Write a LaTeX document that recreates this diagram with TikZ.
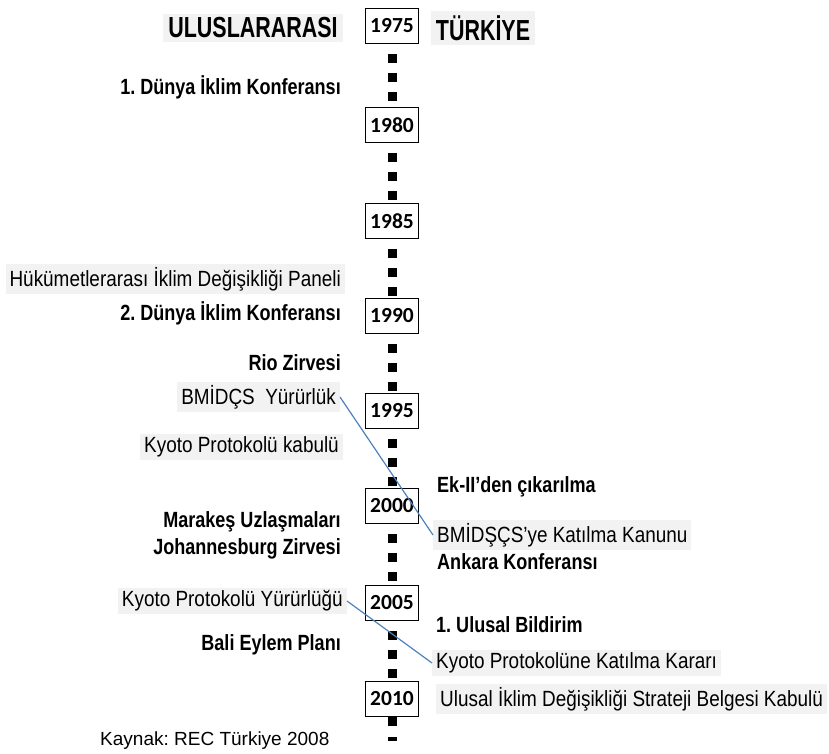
\documentclass[tikz,border=0pt]{standalone}
\usepackage{fontspec}
\setmainfont{Liberation Sans}
\newfontfamily\eventfont{Liberation Sans}[FakeStretch=0.82]
\newfontfamily\notefont{Liberation Sans}[FakeStretch=0.86]
\newfontfamily\headfont{Liberation Sans}[FakeStretch=0.74]
\newfontfamily\yearfont{Carlito}
\usepackage{tikz}
\usetikzlibrary{positioning}
\definecolor{notegray}{RGB}{242,242,242}
\definecolor{linkblue}{RGB}{79,129,189}
\frenchspacing

\begin{document}
\begin{tikzpicture}[
    x=1pt, y=-1pt,
    yearbox/.style={rectangle, draw=black, line width=1.5pt, fill=white, minimum width=53pt, minimum height=35pt, inner sep=0pt, font=\yearfont\bfseries\fontsize{21.5}{24}\selectfont},
    header/.style={rectangle, fill=notegray, inner xsep=5pt, inner ysep=4pt, font=\headfont\bfseries\fontsize{29}{32}\selectfont},
    event/.style={inner sep=0pt, font=\eventfont\bfseries\fontsize{22}{24}\selectfont},
    note/.style={rectangle, fill=notegray, inner xsep=4pt, inner ysep=3pt, font=\notefont\fontsize{22}{24}\selectfont},
    source/.style={inner sep=0pt, font=\fontsize{19}{22}\selectfont},
    timeline/.style={line width=9pt, dash pattern=on 9pt off 10pt, dash phase=9pt},
    link/.style={draw=linkblue, line width=1.2pt}
]

\useasboundingbox (0,0) rectangle (829,754);

% Headers
\node[header] (intl) at (253, 28) {ULUSLARARASI};
\node[header] (turkey) at (483, 28) {TÜRKİYE};

% Year boxes
\node[yearbox] (y1975) at (392, 26) {1975};
\node[yearbox] (y1980) at (392, 125) {1980};
\node[yearbox] (y1985) at (392, 221) {1985};
\node[yearbox] (y1990) at (392, 316) {1990};
\node[yearbox] (y1995) at (392, 411) {1995};
\node[yearbox] (y2000) at (392, 506) {2000};
\node[yearbox] (y2005) at (392, 603) {2005};
\node[yearbox] (y2010) at (392, 699) {2010};
\coordinate (tail) at (392, 741);

% Timeline
\foreach \from/\to in {y1975/y1980, y1980/y1985, y1985/y1990, y1990/y1995, y1995/y2000, y2000/y2005, y2005/y2010}
    \draw[timeline] (\from.south) -- (\to.north);
\draw[line width=9pt, dash pattern=on 9pt off 11pt on 4pt off 10pt] (y2010.south) -- (tail);

% International events
\node[event, anchor=east] (conf1) at (341, 87) {1. Dünya İklim Konferansı};
\node[note, anchor=east] (ipcc) at (345, 279) {Hükümetlerarası İklim Değişikliği Paneli};
\node[event, anchor=east] (conf2) at (341, 313) {2. Dünya İklim Konferansı};
\node[event, anchor=east] (rio) at (341, 363) {Rio Zirvesi};
\node[note, anchor=east] (unfccc) at (340, 397) {BMİDÇS\ \ Yürürlük};
\node[note, anchor=east] (kyotoadopt) at (343, 447) {Kyoto Protokolü kabulü};
\node[event, anchor=east] (marrakesh) at (341, 522) {Marakeş Uzlaşmaları};
\node[event, anchor=east] (johannesburg) at (341, 549) {Johannesburg Zirvesi};
\node[note, anchor=east] (kyotoforce) at (347, 601) {Kyoto Protokolü Yürürlüğü};
\node[event, anchor=east] (bali) at (341, 645) {Bali Eylem Planı};
\node[source, anchor=west] (ref) at (100, 741) {Kaynak: REC Türkiye 2008};

% National events
\node[event, anchor=west] (annex) at (437, 487) {Ek-II’den çıkarılma};
\node[note, anchor=west] (law) at (433, 535) {BMİDŞÇS’ye Katılma Kanunu};
\node[event, anchor=west] (ankara) at (437, 562) {Ankara Konferansı};
\node[event, anchor=west] (natcom) at (436, 625) {1. Ulusal Bildirim};
\node[note, anchor=west] (kyotojoin) at (432, 663) {Kyoto Protokolüne Katılma Kararı};
\node[note, anchor=west] (strategy) at (436, 699) {Ulusal İklim Değişikliği Strateji Belgesi Kabulü};

% Links
\draw[link] (unfccc.east) -- (law.west);
\draw[link] (kyotoforce.east) -- (kyotojoin.west);

\end{tikzpicture}
\end{document}
